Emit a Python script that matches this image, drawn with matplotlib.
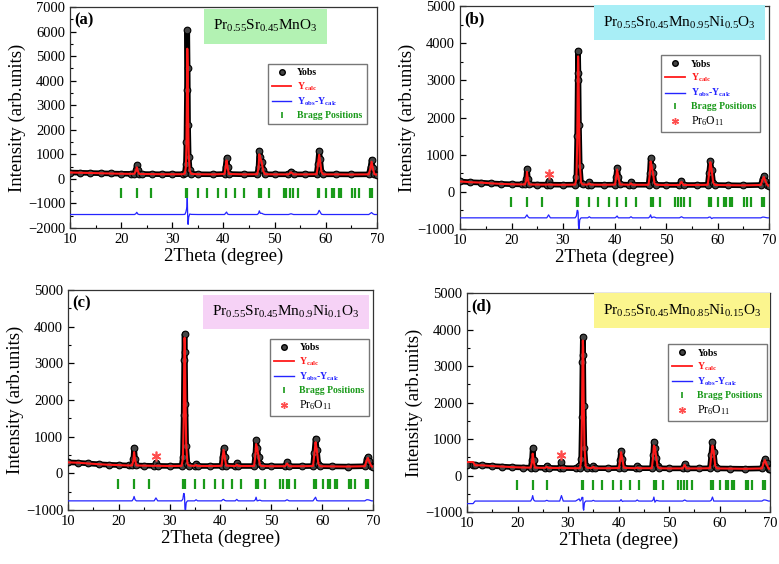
import matplotlib
matplotlib.use("Agg")
import matplotlib.pyplot as plt
from matplotlib.lines import Line2D
from matplotlib.ticker import MultipleLocator

plt.rcParams['font.family'] = ['Liberation Serif', 'DejaVu Serif']
plt.rcParams['mathtext.fontset'] = 'custom'
plt.rcParams['mathtext.rm'] = 'Liberation Serif'
plt.rcParams['mathtext.it'] = 'Liberation Serif:italic'
plt.rcParams['mathtext.bf'] = 'Liberation Serif:bold'

# ---------------- data ----------------
panel_labels = ['(a)', '(b)', '(c)', '(d)']
compositions = [r'Pr$_{0.55}$Sr$_{0.45}$MnO$_3$',
                r'Pr$_{0.55}$Sr$_{0.45}$Mn$_{0.95}$Ni$_{0.5}$O$_3$',
                r'Pr$_{0.55}$Sr$_{0.45}$Mn$_{0.9}$Ni$_{0.1}$O$_3$',
                r'Pr$_{0.55}$Sr$_{0.45}$Mn$_{0.85}$Ni$_{0.15}$O$_3$']

x_a = [10, 12, 14, 16, 18, 20, 22, 22.6, 22.85, 23.05, 23.25, 23.5, 24, 26, 28, 30, 32, 32.45,
       32.65, 32.75, 32.85, 32.92, 33.0, 33.08, 33.2, 33.4, 33.7, 35, 38, 40.2, 40.4, 40.6, 40.8,
       41.05, 44, 46.6, 46.85, 47.0, 47.2, 47.5, 47.75, 48.1, 50, 52.7, 53.2, 53.7, 56, 58.2, 58.45,
       58.7, 58.9, 59.15, 59.5, 62, 65, 68.4, 68.75, 68.95, 69.2, 69.5, 70]
obs_a = [260, 250, 240, 230, 220, 210, 205, 210, 350, 560, 350, 205, 200, 195, 190, 190, 190, 220,
         600, 1500, 3600, 6050, 4500, 2200, 900, 350, 210, 190, 185, 200, 500, 850, 500,
         200, 185, 190, 500, 1150, 900, 700, 350, 190, 185, 185, 300, 185, 185, 190, 600,
         1150, 800, 300, 185, 185, 180, 185, 500, 780, 450, 190, 170]
calc_a = [260, 250, 240, 230, 220, 210, 205, 210, 320, 470, 330, 205, 200, 195, 190, 190, 190, 215,
          500, 1300, 3300, 5300, 4600, 2600, 1000, 330, 205, 190, 185, 200, 450, 750, 480,
          200, 185, 190, 450, 1000, 850, 650, 330, 190, 185, 185, 270, 185, 185, 190, 550,
          980, 700, 290, 185, 185, 180, 185, 450, 700, 420, 190, 170]

x_b = [10, 12, 14, 16, 18, 20, 22, 22.6, 22.85, 23.0, 23.2, 23.45, 25, 26.85, 27.2, 27.55, 30, 32.35,
       32.6, 32.75, 32.85, 32.93, 33.0, 33.1, 33.25, 33.5, 33.8, 34.8, 35.1, 35.4, 38, 40.1, 40.3,
       40.5, 40.75, 41.05, 42.9, 43.2, 43.5, 46.6, 46.85, 47.0, 47.2, 47.5, 47.75, 48.1, 50, 52.6,
       53.0, 53.4, 56, 58.1, 58.35, 58.6, 58.85, 59.15, 59.5, 62, 65, 68.4, 68.75, 69.0, 69.3, 69.7, 70]
obs_b = [280, 260, 250, 230, 215, 205, 200, 200, 350, 620, 350, 200, 195, 195, 280, 195, 190, 195,
         400, 1500, 3000, 3800, 3200, 1800, 700, 250, 200, 195, 260, 195, 190, 195, 400,
         650, 400, 200, 190, 260, 190, 190, 500, 900, 700, 500, 250, 190, 185, 185,
         300, 185, 185, 190, 500, 820, 600, 250, 185, 180, 175, 185, 350, 420, 300, 180, 160]
calc_b = [280, 260, 250, 230, 215, 205, 200, 200, 300, 540, 320, 200, 195, 195, 200, 195, 190, 195,
          350, 1300, 2800, 3650, 3400, 2100, 750, 250, 200, 195, 230, 195, 190, 195, 380,
          600, 400, 200, 190, 230, 190, 190, 470, 820, 700, 480, 230, 190, 185, 185,
          270, 185, 185, 190, 480, 800, 620, 250, 185, 180, 175, 185, 330, 400, 290, 180, 160]

x_c = [10, 12, 14, 16, 18, 20, 22, 22.6, 22.85, 23.0, 23.2, 23.45, 25, 26.95, 27.3, 27.65, 30, 32.35,
       32.6, 32.75, 32.85, 32.93, 33.0, 33.1, 33.25, 33.5, 33.8, 34.9, 35.2, 35.5, 38, 40.2, 40.4,
       40.6, 40.85, 41.1, 42.9, 43.2, 43.5, 46.6, 46.85, 47.0, 47.2, 47.5, 47.75, 48.1, 50, 52.7,
       53.1, 53.5, 56, 58.2, 58.45, 58.7, 58.95, 59.25, 59.6, 62, 65, 68.4, 68.75, 69.0, 69.3, 69.7, 70]
obs_c = [300, 290, 270, 250, 235, 225, 215, 215, 400, 700, 400, 215, 210, 205, 290, 205, 200, 205,
         450, 1600, 3100, 3800, 3300, 1900, 750, 260, 210, 205, 260, 200, 200, 205, 450,
         680, 450, 210, 200, 280, 200, 200, 500, 900, 700, 450, 250, 200, 195, 195,
         300, 195, 195, 200, 550, 950, 650, 260, 195, 190, 185, 195, 380, 450, 330, 190, 180]
calc_c = [300, 290, 270, 250, 235, 225, 215, 215, 350, 580, 370, 215, 210, 205, 210, 205, 200, 205,
          400, 1400, 2900, 3700, 3500, 2200, 800, 260, 210, 205, 230, 200, 200, 205, 420,
          640, 440, 210, 200, 240, 200, 200, 470, 800, 700, 440, 230, 200, 195, 195,
          270, 195, 195, 200, 500, 850, 640, 260, 195, 190, 185, 195, 350, 420, 310, 190, 180]

x_d = [10, 11.2, 11.6, 13, 15, 17, 19, 21, 22.6, 22.85, 23.0, 23.2, 23.45, 25.45, 25.8, 26.15, 28.35,
       28.7, 29.05, 31.5, 32.2, 32.4, 32.6, 32.75, 32.85, 32.93, 33.0, 33.1, 33.25, 33.5, 33.8, 34.7,
       35.0, 35.3, 38, 40.1, 40.3, 40.5, 40.75, 41.05, 43.4, 43.7, 44.0, 46.6, 46.85, 47.0, 47.2,
       47.5, 47.75, 48.1, 50, 52.7, 53.1, 53.5, 56, 58.1, 58.35, 58.6, 58.85, 59.15, 59.5, 62, 65, 68.4,
       68.75, 69.0, 69.3, 69.7, 70]
obs_d = [300, 300, 280, 280, 260, 245, 230, 220, 215, 420, 750, 420, 215, 210, 260, 210, 205,
         370, 205, 200, 260, 210, 450, 1600, 3100, 3800, 3300, 1900, 750, 260, 210, 205,
         260, 200, 200, 205, 420, 680, 450, 210, 200, 250, 200, 200, 550, 930, 750,
         480, 250, 200, 195, 195, 320, 195, 195, 200, 550, 930, 650, 260, 195, 190, 185, 195,
         380, 450, 330, 190, 180]
calc_d = [370, 370, 280, 280, 260, 245, 230, 220, 215, 360, 600, 390, 215, 210, 240, 210, 205,
          220, 205, 200, 200, 210, 420, 1500, 3000, 3700, 3500, 2150, 800, 260, 210, 205,
          240, 200, 200, 205, 420, 640, 460, 210, 200, 220, 200, 200, 520, 820, 780,
          460, 240, 200, 195, 195, 290, 195, 195, 200, 530, 820, 650, 260, 195, 190, 185, 195,
          350, 420, 310, 190, 180]

bragg_positions = [19.9, 23.0, 25.9, 32.7, 32.95, 35.0, 36.8, 38.9, 40.5, 42.3, 44.1, 47.0, 47.4,
                   48.8, 51.8, 52.3, 53.0, 53.5, 54.6, 58.4, 58.75, 60.1, 61.2, 61.6, 62.5, 62.9,
                   65.2, 65.7, 66.5, 68.7, 69.1]

bragg_level = [-560, -270, -300, -270]
diff_offset = [-1450, -700, -750, -700]
impurity_x = [None, 27.2, 27.3, 28.6]
impurity_y = [None, 480, 470, 560]
ylims = [(-2000, 7000), (-1000, 5000), (-1000, 5000), (-1000, 5000)]

xs = [x_a, x_b, x_c, x_d]
obs = [obs_a, obs_b, obs_c, obs_d]
calc = [calc_a, calc_b, calc_c, calc_d]

# ---------------- style / layout ----------------
box_colors = ['#b3f2b3', '#a8eef6', '#f6d2f6', '#fbf58e']
axes_rects = [(0.0899, 0.5957, 0.394, 0.392),
              (0.5905, 0.594, 0.3967, 0.395),
              (0.0873, 0.0957, 0.3915, 0.390),
              (0.5995, 0.0922, 0.389, 0.388)]
title_pos = [(0.466, 0.912), (0.463, 0.926), (0.472, 0.9), (0.449, 0.92)]
legend_anchor = [(0.967, 0.742), (0.972, 0.78), (0.987, 0.777), (0.99, 0.767)]

OBS_C = 'black'
CALC_C = '#ff1a1a'
DIFF_C = '#2424ff'
BRAGG_C = '#1a9a1a'
IMP_C = '#ff4d4d'
asterisk = (6, 2, 0)

fig = plt.figure(figsize=(7.79, 5.64), dpi=100)

for i in range(4):
    ax = fig.add_axes(axes_rects[i])
    x = xs[i]
    yo = obs[i]
    yc = calc[i]
    yd = [o - c + diff_offset[i] for o, c in zip(yo, yc)]

    ax.plot(x, yo, '-', color=OBS_C, lw=4.0, zorder=2)
    ax.plot(x, yo, 'o', color=OBS_C, ms=4.8, mfc='#444444', mec='black', mew=0.8, zorder=3)
    ax.plot(x, yc, '-', color=CALC_C, lw=1.5, zorder=4)
    ax.plot(x, yd, '-', color=DIFF_C, lw=0.9, zorder=4)
    ax.plot(bragg_positions, [bragg_level[i]] * len(bragg_positions), '|', color=BRAGG_C,
            ms=7, mew=1.6, zorder=4)
    if impurity_x[i] is not None:
        ax.plot([impurity_x[i]], [impurity_y[i]], marker=asterisk, color=IMP_C, ms=7, mew=1.2,
                ls='none', zorder=5)

    ax.set_xlim(10, 70)
    ax.set_ylim(*ylims[i])
    ax.xaxis.set_major_locator(MultipleLocator(10))
    ax.xaxis.set_minor_locator(MultipleLocator(5))
    ax.yaxis.set_major_locator(MultipleLocator(1000))
    ax.yaxis.set_minor_locator(MultipleLocator(500))
    ax.tick_params(which='both', direction='in', top=False, right=False, labelsize=10.5)
    ax.tick_params(which='major', length=4, width=0.9)
    ax.tick_params(which='minor', length=2.5, width=0.8)
    for s in ax.spines.values():
        s.set_linewidth(0.9)
        s.set_color('#333333')

    ax.set_xlabel('2Theta (degree)', fontsize=13.5, labelpad=1)
    ax.set_ylabel('Intensity (arb.units)', fontsize=13.5, labelpad=1)

    ax.text(0.015, 0.975, panel_labels[i], transform=ax.transAxes, fontsize=12,
            fontweight='bold', ha='left', va='top')
    ax.text(title_pos[i][0], title_pos[i][1], compositions[i], transform=ax.transAxes,
            fontsize=11, ha='left', va='center', zorder=6,
            bbox=dict(boxstyle='square,pad=0.6', fc=box_colors[i], ec='none'))

    handles = [Line2D([], [], ls='none', marker='o', color='black', mfc='#444444', ms=4.0),
               Line2D([], [], color=CALC_C, lw=1.3),
               Line2D([], [], color=DIFF_C, lw=1.0),
               Line2D([], [], ls='none', marker='|', color=BRAGG_C, ms=5, mew=1.2)]
    labels = ['Yobs', r'Y$_{\mathbf{calc}}$', r'Y$_{\mathbf{obs}}$-Y$_{\mathbf{calc}}$',
              'Bragg Positions']
    colors = ['black', CALC_C, DIFF_C, BRAGG_C]
    if impurity_x[i] is not None:
        handles.append(Line2D([], [], ls='none', marker=asterisk, color=IMP_C, ms=5, mew=1.0))
        labels.append(r'Pr$_6$O$_{11}$')
        colors.append('black')
    leg = ax.legend(handles, labels, loc='upper right', bbox_to_anchor=legend_anchor[i],
                    frameon=True, fancybox=False, handlelength=2.0,
                    handletextpad=0.6, borderpad=0.45, labelspacing=0.3, borderaxespad=0,
                    prop={'weight': 'bold', 'size': 7.0})
    leg.get_frame().set_edgecolor('#555555')
    leg.get_frame().set_linewidth(1.0)
    for t, c in zip(leg.get_texts(), colors):
        t.set_color(c)
    if impurity_x[i] is not None:
        leg.get_texts()[-1].set_fontsize(8.5)
        leg.get_texts()[-1].set_fontweight('normal')

fig.savefig('out.png', dpi=100)
